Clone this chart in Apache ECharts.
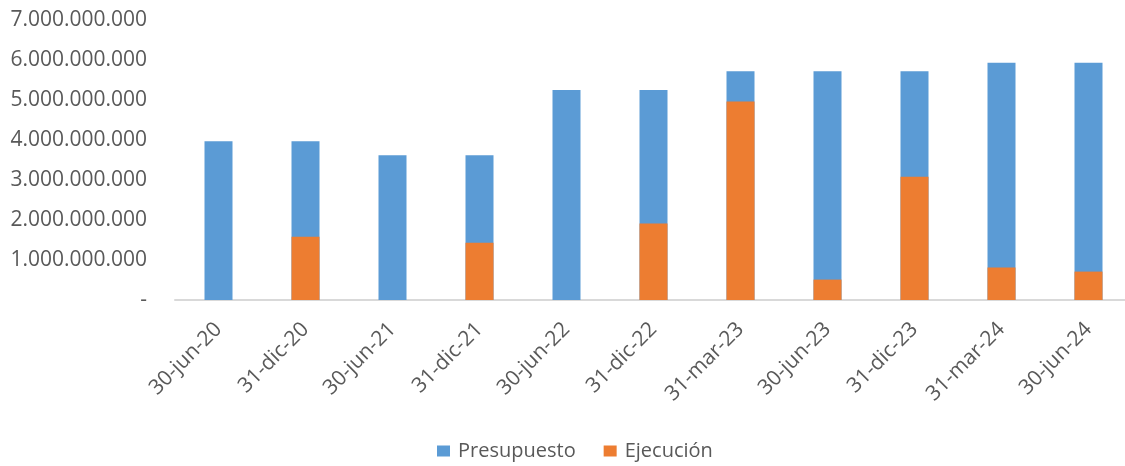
<!DOCTYPE html>
<html>
<head>
<meta charset="utf-8">
<title>Presupuesto vs Ejecución</title>
<script src="https://cdn.jsdelivr.net/npm/echarts@6/dist/echarts.min.js"></script>
<style>
  html, body { margin: 0; padding: 0; background: #fff; overflow: hidden; }
  /* the category axis runs a little past the right edge, as in the original */
  #chart { width: 1132px; height: 466px; }
</style>
</head>
<body>
<div id="chart"></div>
<script>
const categories = ['30-jun-20', '31-dic-20', '30-jun-21', '31-dic-21', '30-jun-22', '31-dic-22',
  '31-mar-23', '30-jun-23', '31-dic-23', '31-mar-24', '30-jun-24']
const presupuesto = [3970000000, 3970000000, 3620000000, 3620000000, 5250000000, 5250000000,
  5720000000, 5720000000, 5720000000, 5930000000, 5930000000]
const ejecucion = [0, 1580000000, 0, 1430000000, 0, 1910000000,
  4960000000, 510000000, 3080000000, 810000000, 710000000]

const textColor = '#595959'
const fontFamily = '"Open Sans", "Liberation Sans", sans-serif'

function formatMiles(value) {
  if (value === 0) {
    return '-'
  }
  return String(value).replace(/\B(?=(\d{3})+(?!\d))/g, '.')
}

const chart = echarts.init(document.getElementById('chart'))
chart.setOption({
  animation: false,
  textStyle: { fontFamily: fontFamily, color: textColor },
  grid: {
    left: 175,
    top: 20,
    right: 0,
    height: 280
  },
  legend: {
    left: 432,
    top: 436,
    itemWidth: 13,
    itemHeight: 11,
    itemGap: 28,
    icon: 'rect',
    textStyle: { fontSize: 20, color: textColor, padding: [0, 0, 0, 3] },
    data: ['Presupuesto', 'Ejecución']
  },
  xAxis: {
    type: 'category',
    data: categories,
    axisTick: { show: false },
    axisLine: { lineStyle: { color: '#d9d9d9', width: 2 } },
    axisLabel: {
      rotate: 45,
      interval: 0,
      margin: 26,
      fontSize: 21,
      color: textColor
    }
  },
  yAxis: {
    type: 'value',
    min: 0,
    max: 7000000000,
    interval: 1000000000,
    splitLine: { show: false },
    axisLine: { show: false },
    axisTick: { show: false },
    axisLabel: {
      margin: 28,
      fontSize: 21,
      color: textColor,
      formatter: formatMiles
    }
  },
  series: [
    {
      name: 'Presupuesto',
      type: 'bar',
      barWidth: 28,
      barGap: '-100%',
      itemStyle: { color: '#5b9bd5' },
      data: presupuesto
    },
    {
      name: 'Ejecución',
      type: 'bar',
      barWidth: 28,
      barGap: '-100%',
      itemStyle: { color: '#ed7d31' },
      data: ejecucion
    }
  ]
})
</script>
</body>
</html>
